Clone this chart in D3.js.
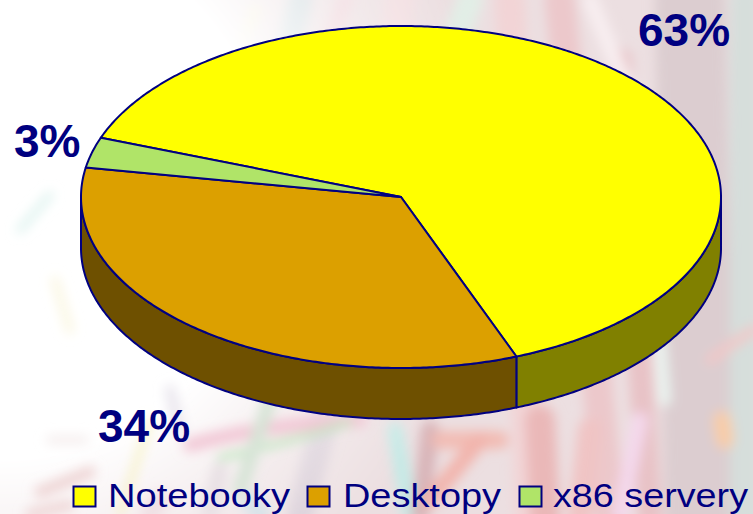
<!DOCTYPE html>
<html><head><meta charset="utf-8">
<script src="https://cdn.jsdelivr.net/npm/d3@7"></script>
<style>html,body{margin:0;padding:0;background:#fff;overflow:hidden}svg{display:block}text{font-family:"Liberation Sans",Arial,sans-serif;fill:#000080}</style>
</head><body><svg id="c" width="753" height="514"></svg>
<script>
const categories = ["Notebooky", "Desktopy", "x86 servery"];
const values = [63.49, 33.64, 2.87];
const valueLabels = ["63%", "34%", "3%"];
const topColors = ["#ffff00", "#dca000", "#b0e468"];
const sideColors = ["#808000", "#6e5000", "#58722f"];

const W = 753, H = 514;
const navy = "#000080";
const svg = d3.select("#c");
const defs = svg.append("defs");
defs.append("filter").attr("id","blur").attr("x","-20%").attr("y","-20%").attr("width","140%").attr("height","140%")
  .append("feGaussianBlur").attr("stdDeviation",6);
const rg = defs.append("radialGradient").attr("id","fade").attr("gradientUnits","userSpaceOnUse")
  .attr("cx",0).attr("cy",190).attr("r",640);
[[0,"#000"],[0.42,"#000"],[0.6,"#999"],[0.76,"#fff"],[1,"#fff"]].forEach(([o,c])=>rg.append("stop").attr("offset",o).attr("stop-color",c));
defs.append("mask").attr("id","bgmask").attr("maskUnits","userSpaceOnUse").attr("x",0).attr("y",0).attr("width",W).attr("height",H)
  .append("rect").attr("width",W).attr("height",H).attr("fill","url(#fade)");

// faded photographic backdrop (decoration only)
const bgStrokes = [
  ["M690 0L700 514",70,"#dccdd0"],["M745 0L745 514",30,"#d6dedb"],
  ["M560 0L610 514",30,"#ecc8cb"],["M510 0L530 514",30,"#f2d4d6"],["M620 60L650 514",24,"#e8c2c6"],
  ["M590 0L640 120",16,"#f8eef0"],["M470 0L455 40",26,"#e2eee6"],["M400 0L395 40",30,"#f2dde0"],
  ["M300 0L285 60",24,"#ccd8dc"],["M255 10L235 60",10,"#f4ecc0"],["M345 0L330 40",16,"#f0d4da"],
  ["M710 360L753 330",10,"#f0c8c8"],["M660 340L665 400",12,"#eaf4f0"],["M722 420L725 440",18,"#f8cca8"],
  ["M395 430L410 514",16,"#c4eae6"],["M430 430L420 514",18,"#d8b4b8"],["M330 400L300 514",26,"#d8ccd6"],
  ["M440 440L500 440",18,"#f2bcb4"],["M480 440L430 500",16,"#f2b4ac"],["M540 420L545 514",30,"#eab8b8"],
  ["M590 430L580 514",24,"#f0c4c4"],["M640 420L620 514",16,"#f4d8ec"],["M250 500L260 514",20,"#c8d8e0"]
];
const bg = svg.append("g").attr("mask","url(#bgmask)");
bg.append("rect").attr("width",W).attr("height",H).attr("fill","#ecdfe1");
bg.append("g").attr("filter","url(#blur)").selectAll("path").data(bgStrokes).join("path")
  .attr("d",d=>d[0]).attr("stroke-width",d=>d[1]).attr("stroke",d=>d[2]).attr("fill","none").attr("stroke-linecap","round");
const bgLeft = [
  ["M190 445Q260 425 360 420",14,"#f2c8d6"],["M220 458Q290 442 350 422",6,"#bce6bc"],
  ["M150 420L120 514",5,"#f6f0b8"],["M40 492L90 472",12,"#eed4d4"],["M30 514L70 505",10,"#eed4d4"],
  ["M85 440L50 440",8,"#f4ecec"],["M220 470L210 514",16,"#e8e0e4"],["M270 400L240 490",14,"#d6e4d6"],
  ["M170 390L180 430",10,"#e8e4ec"],["M20 230L50 195",7,"#dcf2ee"],["M70 330L55 280",8,"#faf6e0"],
  ["M160 500L150 514",20,"#f0e0e4"]
];
svg.append("g").attr("filter","url(#blur)").selectAll("path").data(bgLeft).join("path")
  .attr("d",d=>d[0]).attr("stroke-width",d=>d[1]).attr("stroke",d=>d[2]).attr("fill","none").attr("stroke-linecap","round");

// Pie
const xS = d3.scaleLinear().domain([-1,1]).range([81,721]);
const yS = d3.scaleLinear().domain([-1,1]).range([26,368]);
const depth = 51;
const a0 = 290.3*Math.PI/180;
const pie = d3.pie().sort(null).startAngle(a0).endAngle(a0+2*Math.PI);
const arcs = pie(values);
const pt = (a,dy=0)=>[xS(Math.sin(a)), yS(-Math.cos(a))+dy];
const sample = (s,e,dy=0)=>{const n=Math.max(2,Math.ceil(Math.abs(e-s)/0.01));return d3.range(n+1).map(i=>pt(s+(e-s)*i/n,dy));};
const line = d3.line();

// Side wall: visible between 90deg and 270deg (mod 2pi)
const TAU = 2*Math.PI;
const sides = [];
arcs.forEach((d,i)=>{
  for(const k of [0,1]){
    const lo = Math.max(d.startAngle, Math.PI/2+k*TAU), hi = Math.min(d.endAngle, 1.5*Math.PI+k*TAU);
    if(hi>lo) sides.push({i,lo,hi});
  }
});
svg.append("g").selectAll("path").data(sides).join("path")
  .attr("d",d=>line(sample(d.lo,d.hi).concat(sample(d.hi,d.lo,depth)))+"Z")
  .attr("fill",d=>sideColors[d.i]).attr("stroke",navy).attr("stroke-width",2).attr("stroke-linejoin","round");

svg.append("g").selectAll("path").data(arcs).join("path")
  .attr("d",d=>line([[xS(0),yS(0)]].concat(sample(d.startAngle,d.endAngle)))+"Z")
  .attr("fill",(d,i)=>topColors[i]).attr("stroke",navy).attr("stroke-width",2).attr("stroke-linejoin","round");

// Value labels
const labelPos = [[638,46],[98,442],[14,157]];
svg.append("g").selectAll("text").data(valueLabels).join("text")
  .attr("x",(d,i)=>labelPos[i][0]).attr("y",(d,i)=>labelPos[i][1])
  .attr("font-size",46).attr("font-weight","bold").text(d=>d);

// Legend
const swatchX = [73,307,519], textX = [108,343,553], textW = [182,158,195];
const leg = svg.append("g").selectAll("g").data(categories).join("g");
leg.append("rect").attr("x",(d,i)=>swatchX[i]+.5).attr("y",486.5).attr("width",22).attr("height",20)
  .attr("fill",(d,i)=>topColors[i]).attr("stroke",navy).attr("stroke-width",2);
leg.append("text").attr("x",(d,i)=>textX[i]).attr("y",506.8).attr("font-size",34)
  .attr("textLength",(d,i)=>textW[i]).attr("lengthAdjust","spacingAndGlyphs").text(d=>d);
</script></body></html>
